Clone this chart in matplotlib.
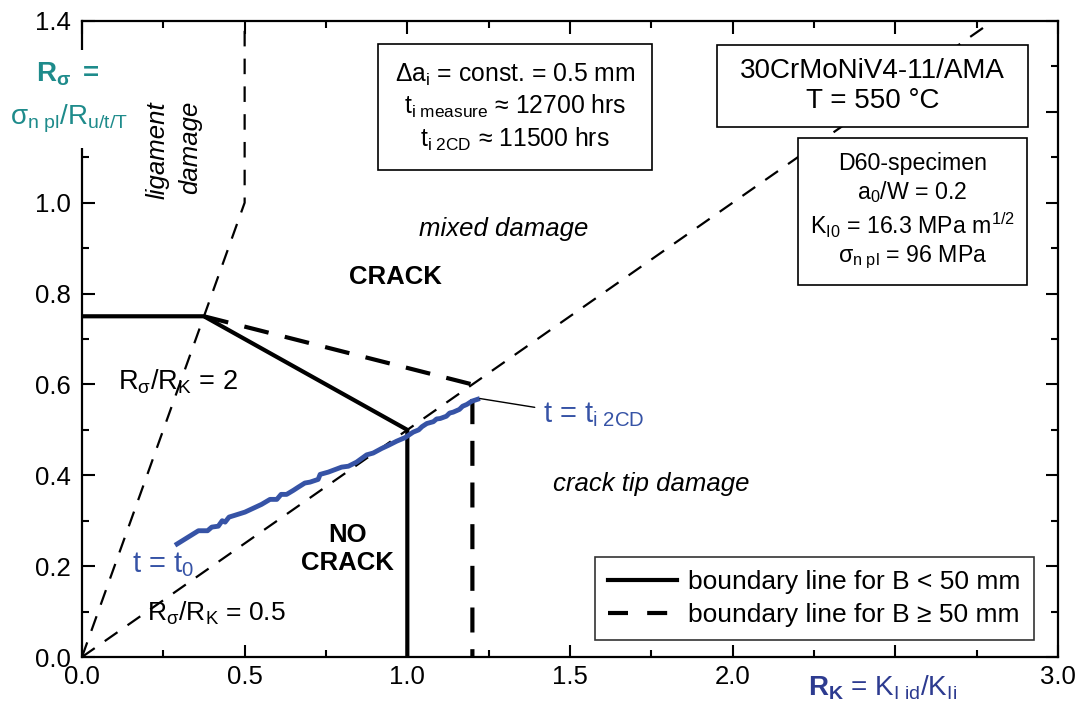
import matplotlib
matplotlib.use('Agg')
import matplotlib.pyplot as plt
import matplotlib.ticker as ticker
from matplotlib.lines import Line2D
from matplotlib.patches import Rectangle

plt.rcParams['font.family'] = ['Liberation Sans', 'DejaVu Sans']
plt.rcParams['mathtext.fontset'] = 'custom'
plt.rcParams['mathtext.rm'] = 'Liberation Sans'
plt.rcParams['mathtext.it'] = 'Liberation Sans:italic'
plt.rcParams['mathtext.bf'] = 'Liberation Sans:bold'

# measured path R_K / R_sigma from t0 to ti,2CD
rkPath = [0.286, 0.358, 0.386, 0.399, 0.419, 0.431, 0.440, 0.452, 0.470, 0.501,
          0.552, 0.578, 0.599, 0.612, 0.629, 0.650, 0.665, 0.685, 0.701, 0.726,
          0.732, 0.757, 0.798, 0.819, 0.844, 0.875, 0.895, 0.921, 0.942, 0.967,
          0.993, 1.018, 1.035, 1.045, 1.060, 1.080, 1.090, 1.101, 1.120, 1.130,
          1.141, 1.160, 1.170, 1.183, 1.198, 1.223]
rsPath = [0.246, 0.278, 0.278, 0.286, 0.288, 0.300, 0.297, 0.308, 0.312, 0.319,
          0.336, 0.347, 0.347, 0.358, 0.358, 0.367, 0.374, 0.383, 0.385, 0.391,
          0.402, 0.407, 0.418, 0.420, 0.429, 0.445, 0.449, 0.459, 0.466, 0.475,
          0.483, 0.495, 0.500, 0.507, 0.514, 0.518, 0.524, 0.525, 0.530, 0.537,
          0.539, 0.545, 0.552, 0.556, 0.563, 0.569]

# boundary lines
solidRk = [0.0, 0.375, 1.0, 1.0]
solidRs = [0.75, 0.75, 0.5, 0.0]
dashRk = [0.375, 1.2, 1.2]
dashRs = [0.75, 0.6, 0.0]

# R_sigma/R_K ratio lines
ratio2Rk = [0.0, 0.5, 0.5]
ratio2Rs = [0.0, 1.0, 1.4]
ratioHalfRk = [0.0, 2.8]
ratioHalfRs = [0.0, 1.4]

xTicks = [0.0, 0.5, 1.0, 1.5, 2.0, 2.5, 3.0]
xTickLabels = ['0.0', '0.5', '1.0', '1.5', '2.0', '', '3.0']
yTicks = [0.0, 0.2, 0.4, 0.6, 0.8, 1.0, 1.2, 1.4]
yTickLabels = ['0.0', '0.2', '0.4', '0.6', '0.8', '1.0', '', '1.4']

blue = '#3653a6'
teal = '#1e8b8b'
navy = '#2d3b90'

fig = plt.figure(figsize=(10.77, 7.11), dpi=100)
ax = fig.add_axes([0.0761, 0.0759, 0.9063, 0.8946])

ax.plot(ratio2Rk, ratio2Rs, color='black', lw=1.6, dashes=(7, 5.5))
ax.plot(ratioHalfRk, ratioHalfRs, color='black', lw=1.6, dashes=(7, 5.5))
ax.plot(solidRk, solidRs, color='black', lw=3, solid_joinstyle='miter')
ax.plot(dashRk, dashRs, color='black', lw=3, dashes=(6, 4))
ax.plot(rkPath, rsPath, color=blue, lw=3.5, solid_capstyle='butt')

ax.set_xlim(0, 3.0)
ax.set_ylim(0, 1.4)
ax.xaxis.set_major_locator(ticker.FixedLocator(xTicks))
ax.xaxis.set_major_formatter(ticker.FixedFormatter(xTickLabels))
ax.xaxis.set_minor_locator(ticker.MultipleLocator(0.25))
ax.yaxis.set_major_locator(ticker.FixedLocator(yTicks))
ax.yaxis.set_major_formatter(ticker.FixedFormatter(yTickLabels))
ax.yaxis.set_minor_locator(ticker.MultipleLocator(0.1))
ax.tick_params(which='both', direction='in', top=True, right=True, width=1.5,
               labelsize=18.5, colors='black')
ax.tick_params(which='major', length=9, pad=8)
ax.tick_params(axis='x', which='major', pad=6)
ax.tick_params(which='minor', length=5)
for s in ax.spines.values():
    s.set_linewidth(1.6)

# region labels
ax.text(0.281, 1.224, 'ligament\ndamage', rotation=90, style='italic', fontsize=18.5,
        ha='center', va='top', multialignment='right', linespacing=1.45)
ax.text(1.297, 0.943, 'mixed damage', style='italic', fontsize=18.5, ha='center', va='center')
ax.text(0.965, 0.837, 'CRACK', weight='bold', fontsize=18.5, ha='center', va='center')
ax.text(0.815, 0.237, 'NO\nCRACK', weight='bold', fontsize=18.5, ha='center', va='center',
        linespacing=1.2)
ax.text(1.749, 0.380, 'crack tip damage', style='italic', fontsize=18.5, ha='center', va='center')
ax.text(0.111, 0.589, r'R$_\mathregular{σ}$/R$_\mathregular{K}$ = 2', fontsize=19.5,
        ha='left', va='baseline')
ax.text(0.200, 0.079, r'R$_\mathregular{σ}$/R$_\mathregular{K}$ = 0.5', fontsize=19,
        ha='left', va='baseline')

# path start / end labels
ax.text(0.154, 0.187, r't = t$_\mathregular{0}$', color=blue, fontsize=21,
        ha='left', va='baseline')
ax.annotate(r't = t$_\mathregular{i\ 2CD}$', xy=(rkPath[-1], rsPath[-1]),
            xytext=(1.417, 0.516), color=blue, fontsize=21, ha='left', va='baseline',
            arrowprops=dict(arrowstyle='-', color='black', lw=1, shrinkA=4, shrinkB=0,
                            relpos=(0, 0.72)))

# info boxes (frames in axes fraction, text centred inside)
boxFrames = [(0.3033, 0.7657, 0.2807, 0.1981),
             (0.6506, 0.8333, 0.3187, 0.1290),
             (0.7336, 0.5849, 0.2346, 0.2311)]
for x0, y0, w, h in boxFrames:
    ax.add_patch(Rectangle((x0, y0), w, h, transform=ax.transAxes, facecolor='white',
                           edgecolor='black', lw=1.2, zorder=3))

ax.text(0.4437, 0.8648,
        'Δa$_\\mathregular{i}$ = const. = 0.5 mm\n'
        't$_\\mathregular{i\\ measure}$ ≈ 12700 hrs\n'
        't$_\\mathregular{i\\ 2CD}$ ≈ 11500 hrs',
        transform=ax.transAxes, fontsize=17.8, ha='center', va='center',
        linespacing=1.25, zorder=4)
ax.text(0.8100, 0.8978, '30CrMoNiV4-11/AMA\nT = 550 °C', transform=ax.transAxes,
        fontsize=20, ha='center', va='center', linespacing=1.2, zorder=4)
ax.text(0.8509, 0.7005,
        'D60-specimen\n'
        'a$_\\mathregular{0}$/W = 0.2\n'
        'K$_\\mathregular{I0}$ = 16.3 MPa m$^\\mathregular{1/2}$\n'
        'σ$_\\mathregular{n\\ pl}$ = 96 MPa',
        transform=ax.transAxes, fontsize=16.7, ha='center', va='center',
        linespacing=1.2, zorder=4)

handles = [Line2D([], [], color='black', lw=3),
           Line2D([], [], color='black', lw=3, dashes=(4.8, 4.6))]
leg = ax.legend(handles, ['boundary line for B < 50 mm', 'boundary line for B ≥ 50 mm'],
                loc='lower right', bbox_to_anchor=(0.9754, 0.0267), borderaxespad=0,
                fontsize=19, frameon=True, fancybox=False, handlelength=2.6,
                handletextpad=0.45, borderpad=0.5, labelspacing=0.32)
leg.get_frame().set_edgecolor('black')
leg.get_frame().set_linewidth(1.2)
leg.set_zorder(5)

# axis titles; the white patch breaks the left spine behind the y title
fig.add_artist(Rectangle((0.0074, 0.7918), 0.1152, 0.1379, transform=fig.transFigure,
                         facecolor='white', edgecolor='none', zorder=2))
fig.text(0.0631, 0.8847, r'$\mathbf{R_σ}$ $\mathbf{=}$', color=teal, fontsize=20,
         ha='center', va='baseline', zorder=3)
fig.text(0.0641, 0.8242, r'σ$_\mathregular{n\ pl}$/R$_\mathregular{u/t/T}$', color=teal,
         fontsize=20, ha='center', va='baseline', zorder=3)
fig.text(0.819, 0.0225, r'$\mathbf{R_K}$ = K$_\mathregular{I\ id}$/K$_\mathregular{Ii}$',
         color=navy, fontsize=20, ha='center', va='baseline')

fig.savefig('out.png', dpi=100)
